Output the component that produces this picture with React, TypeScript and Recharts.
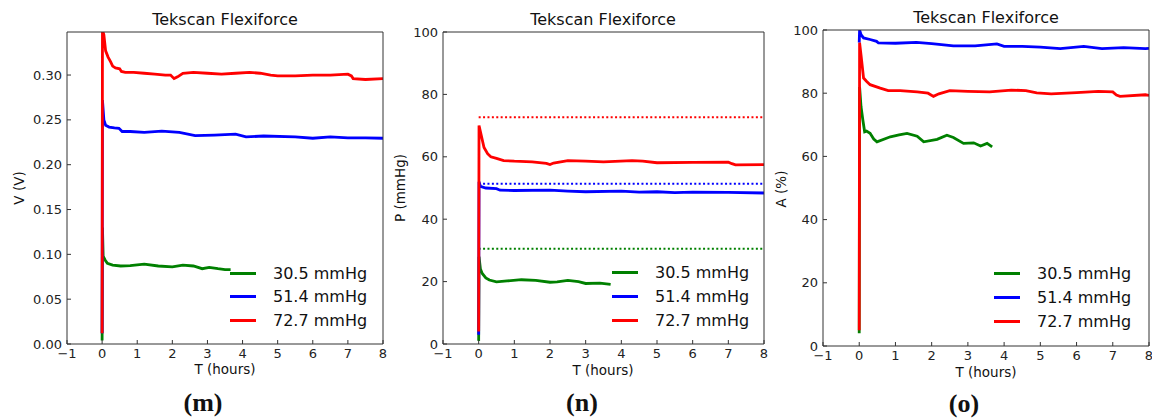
import React from 'react';
import { LineChart, Line, XAxis, YAxis } from 'recharts';

// time axis shared by all three panels
const T_TICKS = [-1, 0, 1, 2, 3, 4, 5, 6, 7, 8];
const LEGEND_LABELS = ['30.5 mmHg', '51.4 mmHg', '72.7 mmHg'];
const COLORS = ['#008000', '#0000ff', '#ff0000'];

// (m) voltage
const M_Y_TICKS = [0, 0.05, 0.1, 0.15, 0.2, 0.25, 0.3];
const mGreenT = [0, 0.01, 0.03, 0.08, 0.15, 0.3, 0.53, 0.8, 1.2, 1.6, 2.0, 2.3, 2.6, 2.85, 3.05, 3.3, 3.5, 3.66];
const mGreenV = [0.004, 0.13, 0.098, 0.094, 0.09, 0.088, 0.087, 0.0875, 0.089, 0.087, 0.086, 0.088, 0.087, 0.084, 0.0855, 0.084, 0.083, 0.083];
const mBlueT = [0, 0.01, 0.05, 0.1, 0.2, 0.35, 0.48, 0.57, 0.8, 1.2, 1.7, 2.2, 2.65, 3.2, 3.8, 4.1, 4.6, 5.5, 6.0, 6.5, 7.0, 7.5, 8.0];
const mBlueV = [0.012, 0.272, 0.25, 0.244, 0.242, 0.241, 0.2405, 0.237, 0.237, 0.236, 0.2375, 0.236, 0.2325, 0.233, 0.234, 0.231, 0.232, 0.231, 0.2295, 0.231, 0.23, 0.23, 0.2295];
const mRedT = [0, 0.01, 0.05, 0.1, 0.17, 0.24, 0.3, 0.38, 0.5, 0.55, 0.66, 0.9, 1.2, 1.5, 1.8, 1.95, 2.05, 2.15, 2.3, 2.6, 3.0, 3.4, 3.8, 4.2, 4.5, 4.8, 5.0, 5.5, 6.0, 6.5, 7.0, 7.1, 7.15, 7.5, 8.0];
const mRedV = [0.012, 0.35, 0.345, 0.327, 0.32, 0.315, 0.31, 0.308, 0.307, 0.304, 0.303, 0.303, 0.302, 0.301, 0.3, 0.3, 0.296, 0.298, 0.302, 0.303, 0.302, 0.301, 0.302, 0.303, 0.302, 0.3, 0.299, 0.299, 0.3, 0.3, 0.301, 0.299, 0.296, 0.295, 0.296];

// (n) pressure
const N_Y_TICKS = [0, 20, 40, 60, 80, 100];
const nGreenT = [0, 0.01, 0.05, 0.1, 0.2, 0.3, 0.5, 0.8, 1.2, 1.6, 2.0, 2.2, 2.5, 2.8, 3.0, 3.4, 3.7];
const nGreenV = [1, 28, 24, 22.6, 21.2, 20.5, 19.9, 20.2, 20.6, 20.4, 19.8, 19.9, 20.4, 20, 19.4, 19.5, 19.1];
const nBlueT = [0, 0.01, 0.05, 0.2, 0.5, 0.6, 1.0, 2.0, 2.5, 3.0, 4.0, 4.5, 5.0, 5.5, 6.0, 7.0, 8.0];
const nBlueV = [3, 52, 50.5, 50, 49.8, 49.3, 49.2, 49.3, 49, 48.8, 49, 48.7, 48.8, 48.5, 48.7, 48.6, 48.4];
const nRedT = [0, 0.01, 0.05, 0.15, 0.25, 0.34, 0.5, 0.7, 1.0, 1.5, 1.9, 2.0, 2.1, 2.5, 3.0, 3.5, 4.3, 4.6, 5.0, 6.0, 7.0, 7.1, 7.2, 8.0];
const nRedV = [4, 70, 68, 63, 61, 60, 59.5, 58.8, 58.6, 58.4, 57.9, 57.5, 58, 58.8, 58.6, 58.4, 58.8, 58.6, 58.1, 58.2, 58.3, 57.8, 57.4, 57.5];
const nTargets = [30.5, 51.4, 72.7];

// (o) area
const O_Y_TICKS = [0, 20, 40, 60, 80, 100];
const oGreenT = [0, 0.01, 0.05, 0.1, 0.15, 0.2, 0.3, 0.4, 0.49, 0.86, 1.1, 1.32, 1.6, 1.78, 2.15, 2.42, 2.6, 2.88, 3.16, 3.35, 3.53, 3.67];
const oGreenV = [4, 82, 75.7, 71.5, 67.8, 68, 67.3, 65.5, 64.6, 66.2, 66.8, 67.3, 66.4, 64.6, 65.4, 66.7, 66, 64.1, 64.3, 63.3, 64.1, 63];
const oBlueT = [0, 0.01, 0.05, 0.12, 0.3, 0.48, 0.53, 1.0, 1.58, 2.0, 2.6, 3.2, 3.8, 4.0, 4.5, 5.0, 5.55, 6.2, 6.7, 7.3, 7.9, 8];
const oBlueV = [96, 100, 98.5, 97.5, 97, 96.4, 95.9, 95.8, 96.1, 95.7, 95, 95, 95.6, 94.8, 94.8, 94.6, 94.1, 94.8, 94.1, 94.4, 94.1, 94.2];
const oRedT = [0, 0.01, 0.05, 0.12, 0.2, 0.3, 0.58, 0.8, 1.13, 1.6, 1.9, 2.05, 2.2, 2.5, 3.0, 3.6, 4.2, 4.6, 4.9, 5.3, 6.0, 6.6, 7.0, 7.1, 7.2, 7.9, 8];
const oRedV = [5, 96, 92, 84.8, 83.8, 82.7, 81.6, 80.8, 80.8, 80.4, 80, 79, 79.8, 80.8, 80.6, 80.4, 81, 80.8, 80.1, 79.8, 80.2, 80.6, 80.4, 79.4, 79, 79.5, 79.3];

const zip = (t: number[], v: number[]) => t.map((x, i) => ({ t: x, v: v[i] }));
const fmtT = (v: number) => (v < 0 ? `\u2212${Math.abs(v)}` : String(v));

const FONT = '"DejaVu Sans", sans-serif';
const AXIS = '#333';
const tickStyle = { fill: '#222', fontSize: 13, fontFamily: FONT };

interface PanelProps {
  left: number;
  width: number;
  plotTop: number;
  plotBottom: number;
  marginRight: number;
  yDomain: [number, number];
  yTicks: number[];
  yFmt: (v: number) => string;
  series: { t: number[]; v: number[] }[];
  targets?: number[];
}

function Panel({ left, width, plotTop, plotBottom, marginRight, yDomain, yTicks, yFmt, series, targets }: PanelProps) {
  return (
    <LineChart
      width={width}
      height={419}
      margin={{ top: plotTop, right: marginRight, bottom: 419 - plotBottom - 30, left: 10 }}
      style={{ position: 'absolute', left, top: 0 }}
    >
      <XAxis
        dataKey="t"
        type="number"
        domain={[-1, 8]}
        ticks={T_TICKS}
        tickFormatter={fmtT}
        interval={0}
        height={30}
        tickSize={-4}
        tickMargin={9}
        stroke={AXIS}
        tick={tickStyle}
        allowDataOverflow
      />
      <XAxis
        xAxisId="top"
        dataKey="t"
        orientation="top"
        mirror
        height={1}
        type="number"
        domain={[-1, 8]}
        ticks={T_TICKS}
        interval={0}
        tick={false}
        tickSize={4}
        stroke={AXIS}
        allowDataOverflow
      />
      <YAxis
        type="number"
        domain={yDomain}
        ticks={yTicks}
        tickFormatter={yFmt}
        interval={0}
        width={50}
        tickSize={-4}
        tickMargin={9}
        stroke={AXIS}
        tick={tickStyle}
        allowDataOverflow
      />
      <YAxis
        yAxisId="right"
        orientation="right"
        mirror
        width={1}
        type="number"
        domain={yDomain}
        ticks={yTicks}
        interval={0}
        tick={false}
        tickSize={4}
        stroke={AXIS}
        allowDataOverflow
      />
      {(targets || []).map((lvl, i) => (
        <Line
          key={`ref${i}`}
          data={[{ t: 0, v: lvl }, { t: 8, v: lvl }]}
          dataKey="v"
          stroke={COLORS[i]}
          strokeWidth={2}
          strokeDasharray="2 2.4"
          dot={false}
          isAnimationActive={false}
        />
      ))}
      {series.map((s, i) => (
        <Line
          key={`s${i}`}
          data={zip(s.t, s.v)}
          dataKey="v"
          type="linear"
          stroke={COLORS[i]}
          strokeWidth={2.8}
          dot={false}
          isAnimationActive={false}
        />
      ))}
      {/* invisible series so the frame axes on top/right get rendered */}
      <Line
        data={zip([-1, 8], [yDomain[0], yDomain[0]])}
        dataKey="v"
        xAxisId="top"
        yAxisId="right"
        stroke="none"
        dot={false}
        legendType="none"
        isAnimationActive={false}
      />
    </LineChart>
  );
}

const centered = (cx: number, cy: number, extra: React.CSSProperties = {}): React.CSSProperties => ({
  position: 'absolute',
  left: cx,
  top: cy,
  transform: 'translate(-50%, -50%)',
  whiteSpace: 'nowrap',
  lineHeight: 1,
  color: '#111',
  ...extra,
});

function Legend({ x, rows }: { x: number; rows: number[] }) {
  return (
    <>
      {LEGEND_LABELS.map((lab, i) => (
        <div key={lab} style={{ position: 'absolute', left: x, top: rows[i] - 10, height: 20, display: 'flex', alignItems: 'center' }}>
          <div style={{ width: 26, height: 3, background: COLORS[i] }} />
          <div style={{ marginLeft: 17, fontSize: 16, fontFamily: FONT, color: '#111' }}>{lab}</div>
        </div>
      ))}
    </>
  );
}

export default function App() {
  return (
    <div style={{ position: 'absolute', left: 0, top: 0, width: 1152, height: 419, overflow: 'hidden', background: '#fff', fontFamily: FONT }}>
      <Panel
        left={7}
        width={386}
        plotTop={32}
        plotBottom={344}
        marginRight={10}
        yDomain={[0, 0.348]}
        yTicks={M_Y_TICKS}
        yFmt={(v) => v.toFixed(2)}
        series={[{ t: mGreenT, v: mGreenV }, { t: mBlueT, v: mBlueV }, { t: mRedT, v: mRedV }]}
      />
      <Panel
        left={383}
        width={391}
        plotTop={32}
        plotBottom={344}
        marginRight={10}
        yDomain={[0, 100]}
        yTicks={N_Y_TICKS}
        yFmt={(v) => String(v)}
        series={[{ t: nGreenT, v: nGreenV }, { t: nBlueT, v: nBlueV }, { t: nRedT, v: nRedV }]}
        targets={nTargets}
      />
      <Panel
        left={763}
        width={389}
        plotTop={30}
        plotBottom={346}
        marginRight={3}
        yDomain={[0, 100]}
        yTicks={O_Y_TICKS}
        yFmt={(v) => String(v)}
        series={[{ t: oGreenT, v: oGreenV }, { t: oBlueT, v: oBlueV }, { t: oRedT, v: oRedV }]}
      />

      <div style={centered(225, 20, { fontSize: 16 })}>Tekscan Flexiforce</div>
      <div style={centered(603, 20, { fontSize: 16 })}>Tekscan Flexiforce</div>
      <div style={centered(986, 18, { fontSize: 16 })}>Tekscan Flexiforce</div>

      <div style={centered(20, 188, { fontSize: 13.5, transform: 'translate(-50%, -50%) rotate(-90deg)' })}>V (V)</div>
      <div style={centered(401, 188, { fontSize: 13.5, transform: 'translate(-50%, -50%) rotate(-90deg)' })}>P (mmHg)</div>
      <div style={centered(782, 189, { fontSize: 13.5, transform: 'translate(-50%, -50%) rotate(-90deg)' })}>A (%)</div>

      <div style={centered(225, 370, { fontSize: 13.5 })}>T (hours)</div>
      <div style={centered(603, 371, { fontSize: 13.5 })}>T (hours)</div>
      <div style={centered(986, 373, { fontSize: 13.5 })}>T (hours)</div>

      <Legend x={230} rows={[273, 296, 320]} />
      <Legend x={612} rows={[272, 296, 320]} />
      <Legend x={994} rows={[273, 297, 321]} />

      <div style={centered(203, 403, { fontSize: 26, fontWeight: 'bold', fontFamily: '"Liberation Serif", serif' })}>(m)</div>
      <div style={centered(582, 403, { fontSize: 26, fontWeight: 'bold', fontFamily: '"Liberation Serif", serif' })}>(n)</div>
      <div style={centered(964, 404, { fontSize: 26, fontWeight: 'bold', fontFamily: '"Liberation Serif", serif' })}>(o)</div>
    </div>
  );
}
